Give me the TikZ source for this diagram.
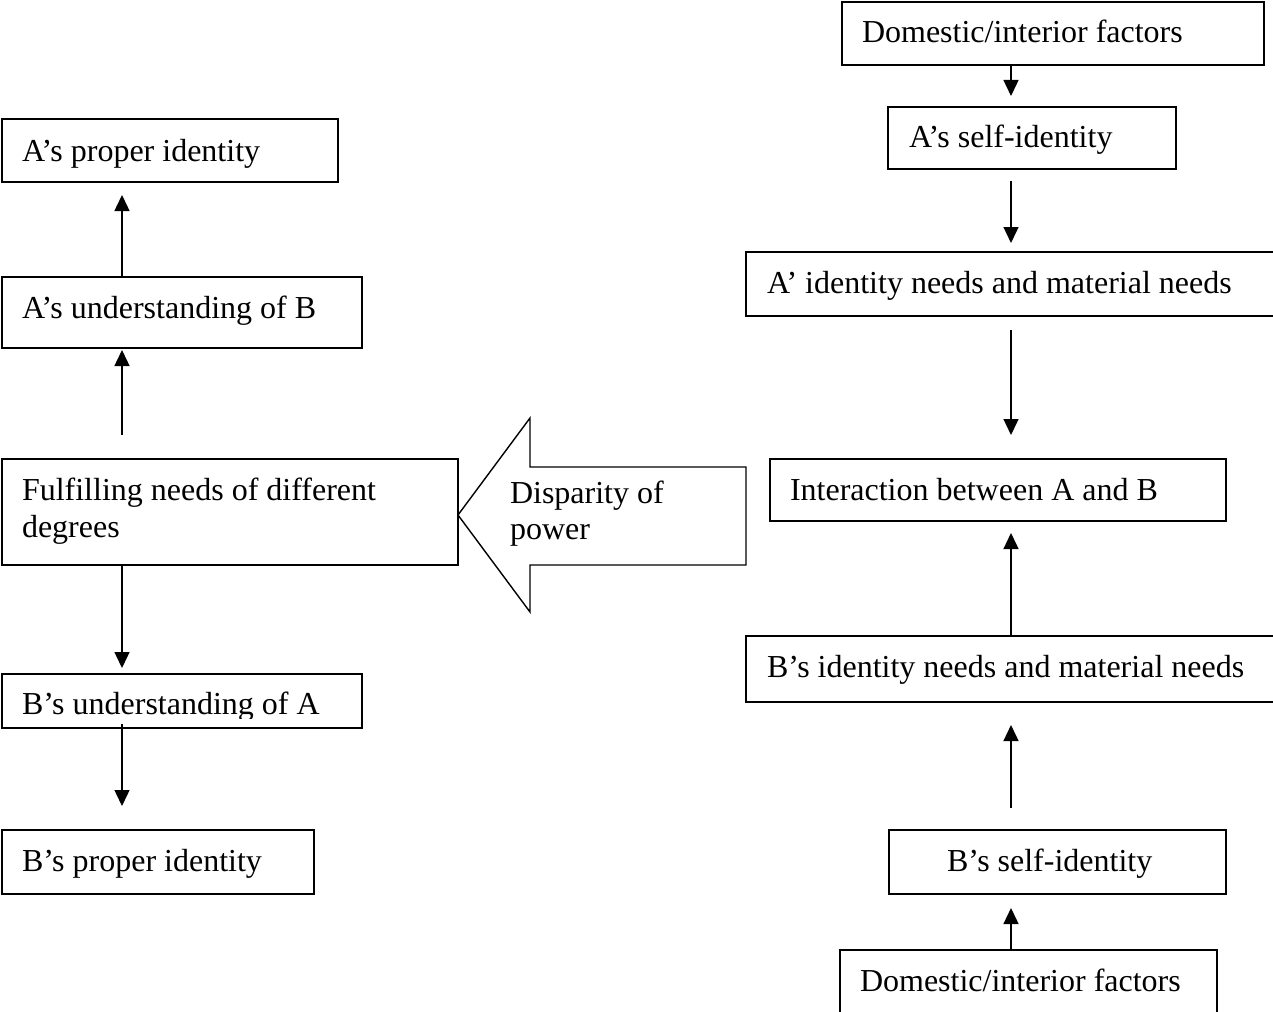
\documentclass[tikz,border=0pt]{standalone}
\usepackage{fontspec}
\setmainfont{Liberation Serif}
\usetikzlibrary{arrows.meta}
\tikzset{
  box/.style={draw, line width=1.4pt, inner sep=0pt, outer sep=0pt, anchor=north west},
  txt/.style={inner sep=0pt, outer sep=0pt, anchor=base west, font=\fontsize{32}{37}\selectfont},
  arr/.style={line width=1.4pt, -{Triangle[width=15pt,length=16pt]}},
  blockarrow/.style={draw, line width=1.4pt, line join=miter}
}
\begin{document}
\begin{tikzpicture}[x=1pt,y=-1pt]
\useasboundingbox (0,0) rectangle (1273,1011);
\clip (0,0) rectangle (1273,1011);
\coordinate (lx) at (122,0);
\coordinate (rx) at (1011,0);
% left column boxes
\node[box, minimum width=336pt, minimum height=63pt] (apr) at (2,119) {};
\node[txt] (aprt) at (22,162) {A’s proper identity};
\node[box, minimum width=360pt, minimum height=71pt] (aub) at (2,277) {};
\node[txt] (aubt) at (22,318) {A’s understanding of B};
\node[box, minimum width=456pt, minimum height=106pt] (ful) at (2,459) {};
\node[txt] (fult1) at (22,500) {Fulfilling needs of different};
\node[txt] (fult2) at (22,537) {degrees};
\node[box, minimum width=360pt, minimum height=54pt] (bua) at (2,674) {};
\begin{scope}
\clip (0,660) rectangle (400,718);
\node[txt] (buat) at (22,714) {B’s understanding of A};
\end{scope}
\node[box, minimum width=312pt, minimum height=64pt] (bpi) at (2,830) {};
\node[txt] (bpit) at (22,871) {B’s proper identity};
% block arrow
\draw[blockarrow] (746,467) -- (530,467) -- (530,418) -- (458,515) -- (530,612) -- (530,565) -- (746,565) -- cycle;
\node[txt] (disp1) at (510,503) {Disparity of};
\node[txt] (disp2) at (510,539) {power};
% right column boxes
\node[box, minimum width=422pt, minimum height=63pt] (dom1) at (842,2) {};
\node[txt] (dom1t) at (862,43) {Domestic/interior factors};
\node[box, minimum width=288pt, minimum height=62pt] (asi) at (888,107) {};
\node[txt] (asit) at (909,148) {A’s self-identity};
\node[box, minimum width=534pt, minimum height=64pt] (aid) at (746,252) {};
\node[txt] (aidt) at (767,293) {A’ identity needs and material needs};
\node[box, minimum width=456pt, minimum height=62pt] (inter) at (770,459) {};
\node[txt] (intert) at (790,500) {Interaction between A and B};
\node[box, minimum width=534pt, minimum height=66pt] (bid) at (746,636) {};
\node[txt] (bidt) at (767,677) {B’s identity needs and material needs};
\node[box, minimum width=337pt, minimum height=64pt] (bsi) at (889,830) {};
\node[txt] (bsit) at (947,871) {B’s self-identity};
\node[box, minimum width=377pt, minimum height=70pt] (dom2) at (840,950) {};
\node[txt] (dom2t) at (860,991) {Domestic/interior factors};
% left arrows
\draw[arr, shorten >=13pt] (aub.north -| lx) -- (apr.south -| lx);
\draw[arr, shorten <=24pt, shorten >=2pt] (ful.north -| lx) -- (aub.south -| lx);
\draw[arr, shorten >=6pt] (ful.south -| lx) -- (bua.north -| lx);
\draw[arr, shorten <=-4pt, shorten >=24pt] (bua.south -| lx) -- (bpi.north -| lx);
% right arrows
\draw[arr, shorten >=11pt] (dom1.south -| rx) -- (asi.north -| rx);
\draw[arr, shorten <=12pt, shorten >=9pt] (asi.south -| rx) -- (aid.north -| rx);
\draw[arr, shorten <=14pt, shorten >=24pt] (aid.south -| rx) -- (inter.north -| rx);
\draw[arr, shorten >=12pt] (bid.north -| rx) -- (inter.south -| rx);
\draw[arr, shorten <=22pt, shorten >=23pt] (bsi.north -| rx) -- (bid.south -| rx);
\draw[arr, shorten >=14pt] (dom2.north -| rx) -- (bsi.south -| rx);
\end{tikzpicture}
\end{document}
